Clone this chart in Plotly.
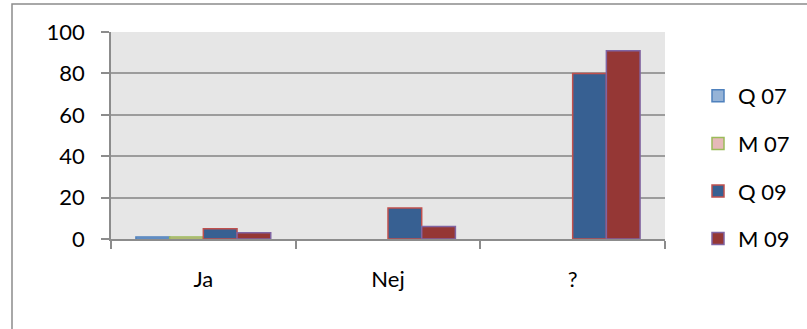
import plotly.graph_objects as go

categories = ["Ja", "Nej", "?"]
series_names = ["Q 07", "M 07", "Q 09", "M 09"]
q07 = [1, None, None]
m07 = [1, None, None]
q09 = [5, 15, 80]
m09 = [3, 6, 91]
y_ticks = [0, 20, 40, 60, 80, 100]

fills = ["#95B3D7", "#E6B9B8", "#376092", "#953735"]
borders = ["#4F81BD", "#9BBB59", "#C0504D", "#8064A2"]

W, H = 807, 329
L, T = 111, 32
R = W - 665
B = H - 239
pw, ph = W - L - R, H - T - B

fig = go.Figure()
for i, (name, vals) in enumerate(zip(series_names, [q07, m07, q09, m09])):
    fig.add_trace(go.Bar(
        x=categories, y=vals, name=name, legendgroup=name,
        marker=dict(color=fills[i], line=dict(color=borders[i], width=1.5)),
    ))

def px_x(p):
    return (p - L) / pw

def px_y(p):
    return (H - B - p) / ph

fig.add_shape(type="rect", xref="paper", yref="paper",
              x0=px_x(12), x1=px_x(830), y0=px_y(350), y1=px_y(4),
              line=dict(color="#8C8C8C", width=1.5), fillcolor="rgba(0,0,0,0)",
              layer="below")

font = "Lato, 'Open Sans', sans-serif"
fig.update_layout(
    width=W, height=H,
    margin=dict(l=L, r=R, t=T, b=B),
    paper_bgcolor="white", plot_bgcolor="#E6E6E6",
    barmode="group", bargap=0.27, bargroupgap=0,
    font=dict(family=font, size=22, color="#000000"),
    showlegend=True,
    legend=dict(x=px_x(698), xanchor="left", y=px_y(75), yanchor="top",
                traceorder="grouped", tracegroupgap=16,
                font=dict(size=22), bgcolor="rgba(0,0,0,0)"),
    xaxis=dict(type="category", tickson="boundaries", ticks="outside", ticklen=8,
               tickcolor="#8C8C8C", tickwidth=1.5, showgrid=False,
               showline=True, linecolor="#8C8C8C", linewidth=1.5,
               ticklabelstandoff=20),
    yaxis=dict(range=[0, 100], tickvals=y_ticks, ticks="outside", ticklen=8,
               tickcolor="#8C8C8C", tickwidth=1.5, showgrid=True,
               gridcolor="#9C9C9C", gridwidth=1.5, zeroline=False,
               showline=True, linecolor="#8C8C8C", linewidth=1.5,
               ticklabelstandoff=12),
)

fig.write_html("out.html", config={"displayModeBar": False},
               post_script="document.body.style.margin='0';document.body.style.overflow='hidden';")
